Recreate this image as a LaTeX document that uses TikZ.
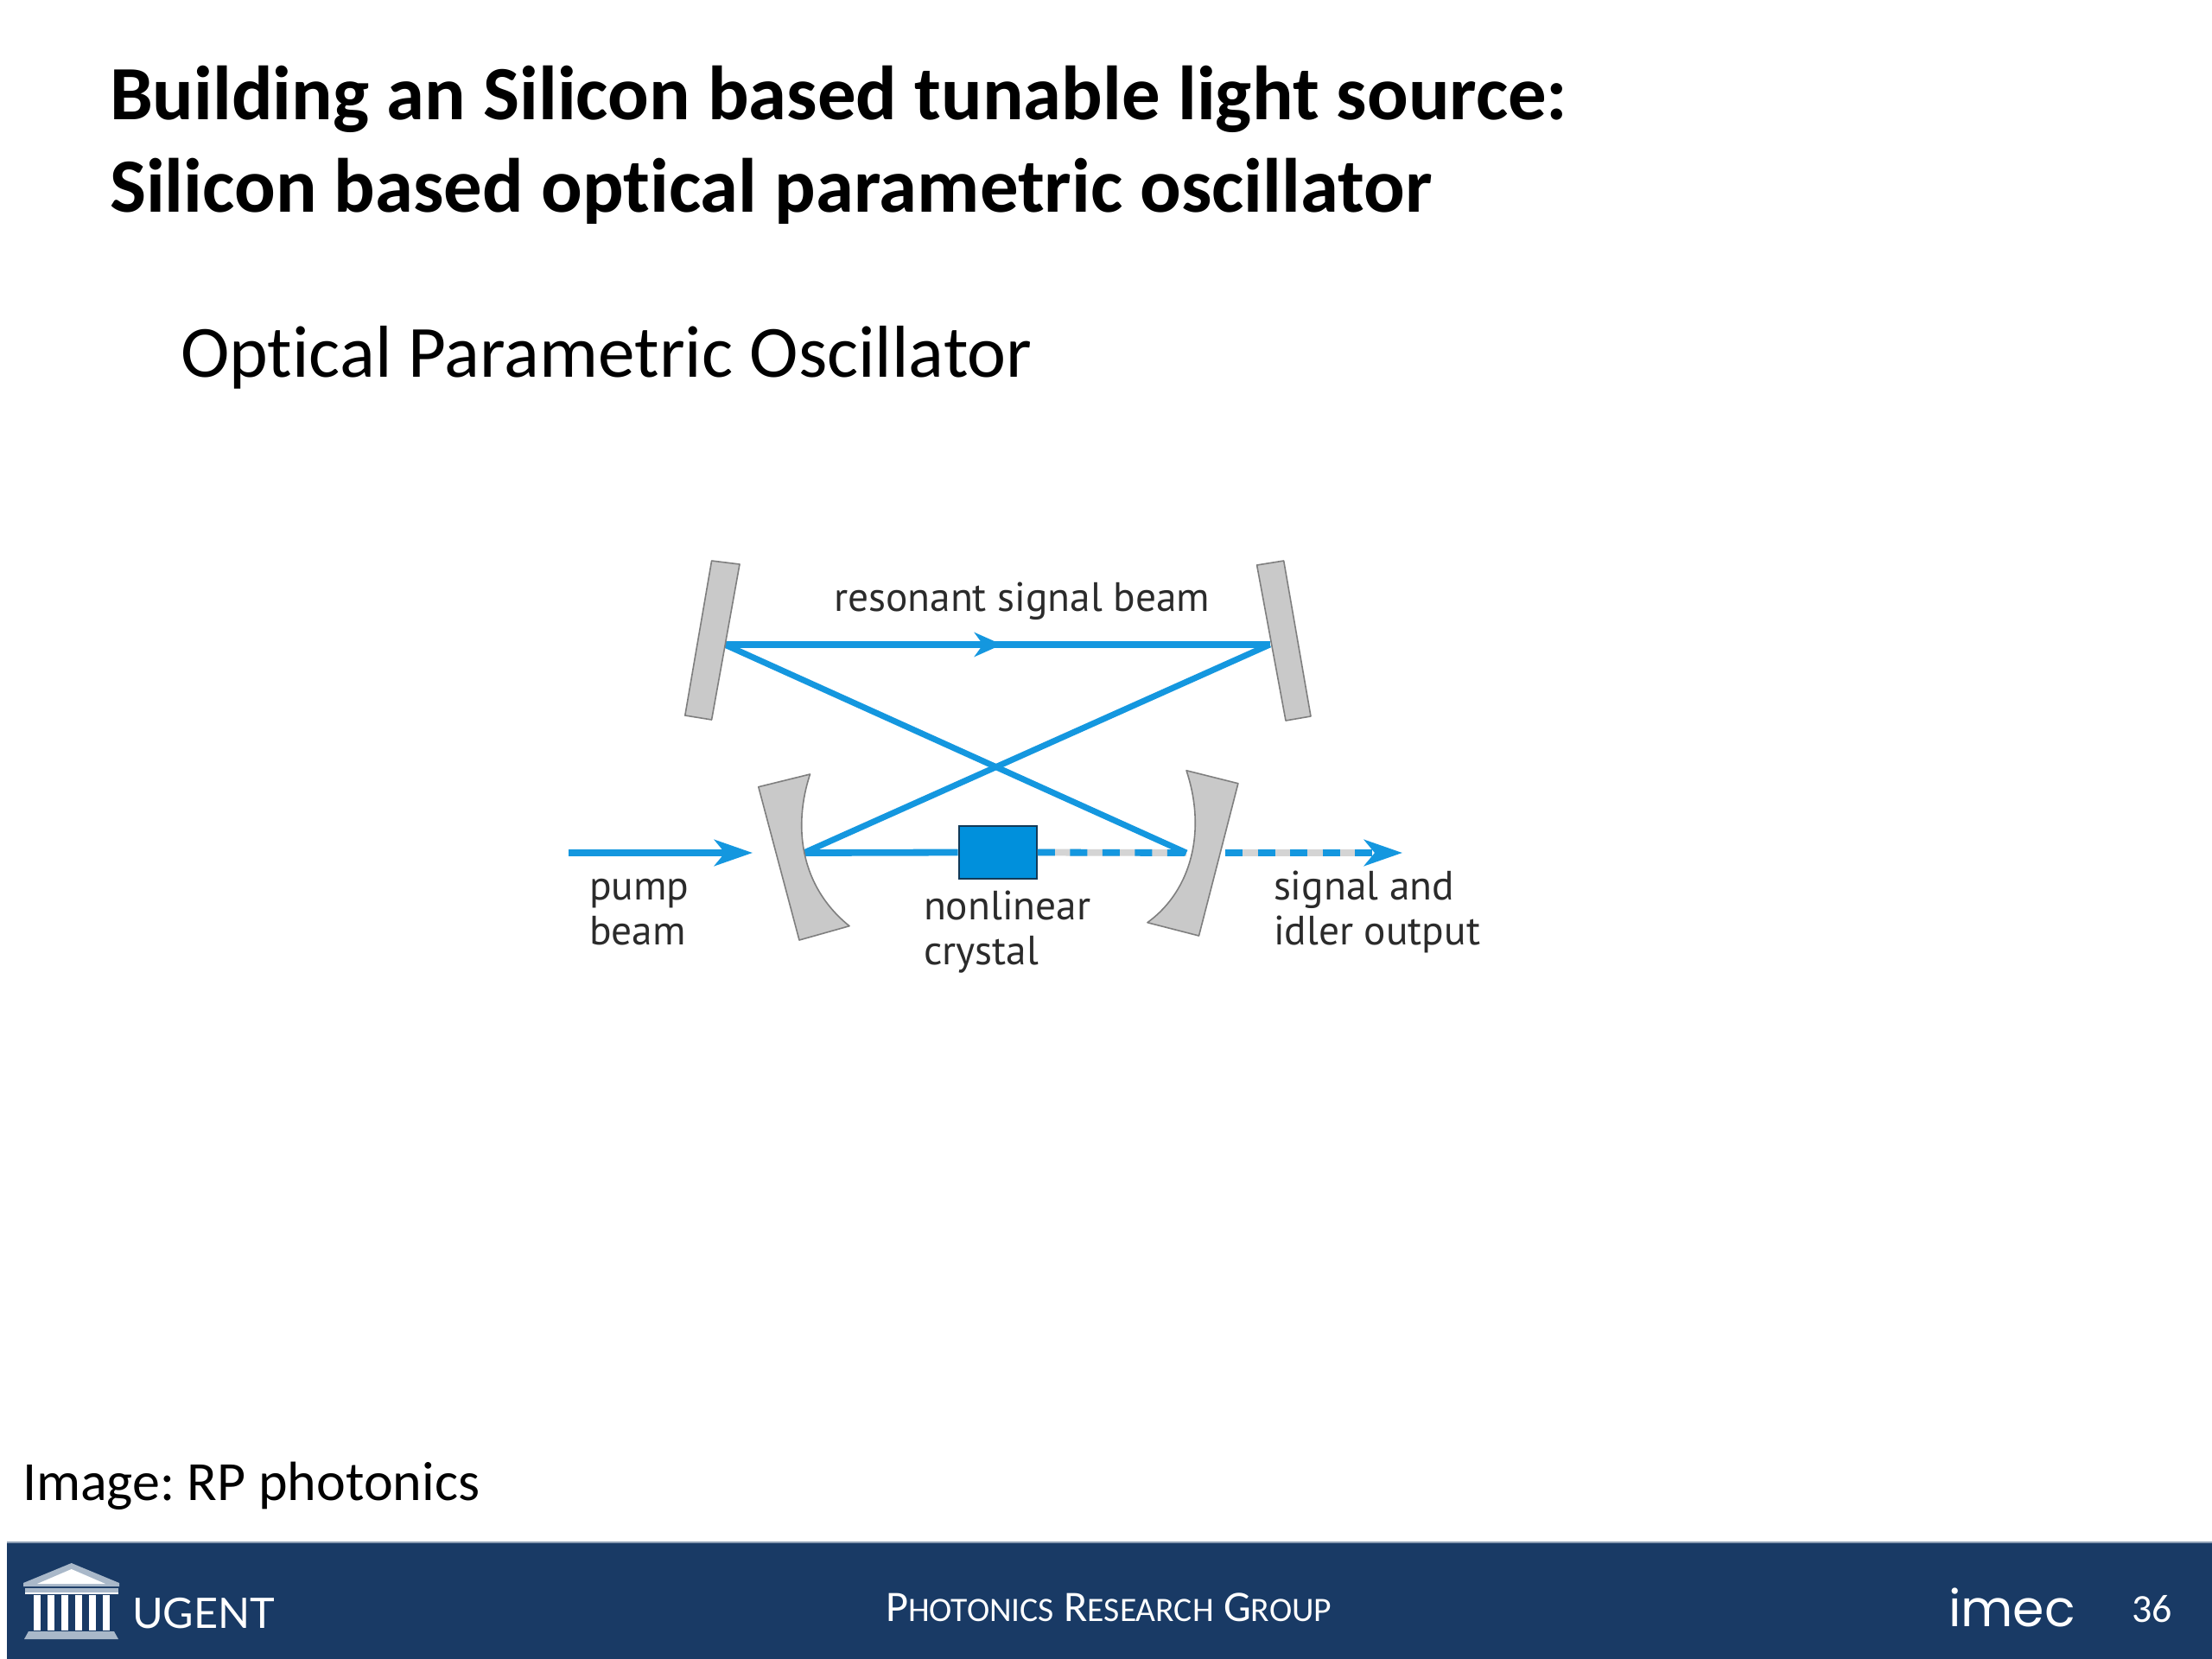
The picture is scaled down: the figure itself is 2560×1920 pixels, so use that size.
\documentclass[tikz,border=0pt]{standalone}
\usepackage{fontspec}
\setmainfont{Carlito}[Ligatures=NoCommon]
\newfontfamily\labelfont{PT Sans}
\newfontfamily\logofont{Poppins}
\newfontfamily\ugentfont{Lato}
\usetikzlibrary{arrows.meta}
\definecolor{beamblue}{HTML}{1497DF}
\definecolor{crystalblue}{HTML}{0090DC}
\definecolor{crystaledge}{HTML}{123A58}
\definecolor{mirrorfill}{HTML}{C9C9C9}
\definecolor{mirroredge}{HTML}{7F7F7F}
\definecolor{dashgrey}{HTML}{D4D4D4}
\definecolor{band}{HTML}{193A65}
\definecolor{bandedge}{HTML}{8C9DB3}
\definecolor{logogrey}{HTML}{A9B8C9}
\definecolor{labelgrey}{HTML}{2B2B2B}
\tikzset{
  txt/.style={anchor=base west,inner sep=0pt,outer sep=0pt},
  titletxt/.style={txt,font=\fontsize{44.42}{44.42}\selectfont\bfseries,text=black},
  subtxt/.style={txt,font=\fontsize{42.6}{42.6}\selectfont,text=black},
  captxt/.style={txt,font=\frenchspacing\fontsize{32}{32}\selectfont,text=black},
  lbl/.style={txt,font=\labelfont\fontsize{23.7}{23.7}\selectfont,text=labelgrey},
  foot/.style={txt,text=white},
  beam/.style={draw=beamblue,line width=3.9pt},
  thinbeam/.style={draw=beamblue,line width=3.5pt},
  tip/.style={-{Stealth[length=22pt,width=15pt,inset=6pt]}},
  smalltip/.style={-{Stealth[length=16pt,width=14pt,inset=5pt]}},
  greyline/.style={draw=dashgrey,line width=3.9pt},
  dashbeam/.style={draw=beamblue,line width=3.9pt,dash pattern=on 10pt off 8.75pt},
  mirror/.style={fill=mirrorfill,draw=mirroredge,line width=0.8pt,line join=round},
}
\begin{document}
\begin{tikzpicture}[x=0.5pt,y=-0.5pt]
\useasboundingbox (0,0) rectangle (2560,1920);
\fill[white] (0,0) rectangle (2560,1920);

% titles
\node[titletxt] (t1) at (127,139) {Building an Silicon based tunable light source:};
\node[titletxt] (t2) at (127,246) {Silicon based optical parametric oscillator};
\node[subtxt] (t3) at (209,437) {Optical Parametric Oscillator};
\node[captxt] (t4) at (26,1736) {Image: RP photonics};

% beam points
\coordinate (pumpstart) at (658,987);
\coordinate (pumptip) at (871,987);
\coordinate (ml) at (930.4,987);
\coordinate (mr) at (1373,987);
\coordinate (tl) at (838.7,746);
\coordinate (tr) at (1469.6,746);
\coordinate (tm) at (1159.7,746);
\coordinate (outstart) at (1418,987);
\coordinate (outstop) at (1585,987);
\coordinate (outtip) at (1623,987);

% crystal
\node[draw=crystaledge,fill=crystalblue,line width=1.2pt,minimum width=45pt,minimum height=30.5pt,inner sep=0pt,anchor=center] (crystal) at (1154.7,986.5) {};

% beams
\draw[beam,tip] (pumpstart) -- (pumptip);
\draw[beam] (ml) -- (crystal.west);
\draw[greyline] (crystal.east) -- (mr);
\draw[dashbeam] (crystal.east) -- (mr);
\draw[greyline] (outstart) -- (outstop);
\draw[dashbeam,tip] (outstart) -- (outtip);
\draw[beam] (tl) -- (tr);
\draw[beam,smalltip] (tl) -- (tm);
\draw[thinbeam] (tl) -- (mr);
\draw[thinbeam] (ml) -- (tr);

% mirrors
\draw[mirror] (823.6,649) -- (856,653) -- (823.6,833) -- (792.8,828) -- cycle;
\draw[mirror] (1454.6,654) -- (1485.7,649) -- (1517,829) -- (1488,834) -- cycle;
\draw[mirror] (877.8,910.7) -- (937.5,896) .. controls (918,955) and (925,1025) .. (983,1071.7) -- (925,1088) -- cycle;
\draw[mirror] (1373,891.7) -- (1432.9,906.7) -- (1387.5,1083) -- (1327.9,1067.7) .. controls (1380,1030) and (1396,960) .. (1373,891.7) -- cycle;

% labels
\node[lbl] (l1) at (965,707) {resonant signal beam};
\node[lbl] (l2) at (682,1041) {pump};
\node[lbl] (l3) at (682,1093) {beam};
\node[lbl] (l4) at (1069,1064) {nonlinear};
\node[lbl] (l5) at (1069,1116) {crystal};
\node[lbl] (l6) at (1474,1041) {signal and};
\node[lbl] (l7) at (1474,1093) {idler output};

% footer band
\fill[band] (8,1785) rectangle (2560,1920);
\draw[bandedge,line width=0.6pt] (8,1785) -- (2560,1785);

% building logo
\fill[logogrey] (82.7,1809) -- (138,1832) -- (138,1836) -- (27,1836) -- (27,1832) -- cycle;
\fill[white] (82.7,1816) -- (122,1833) -- (43,1833) -- cycle;
\fill[logogrey] (29,1838) rectangle (137,1843);
\fill[white] (29,1843) rectangle (137,1845);
\foreach \cx in {42.7,59,75,91,107,122.7}
  \fill[white] (\cx-4,1846) rectangle (\cx+4,1887);
\fill[logogrey] (33,1888) -- (132,1888) -- (137,1897) -- (28,1897) -- cycle;

% footer text
\node[foot,font=\ugentfont\fontsize{24.3}{24.3}\selectfont] (f1) at (153,1884) {UGENT};
\node[foot,font=\fontsize{25.2}{25.2}\selectfont] (f2) at (1025,1876) {P{\fontsize{19.8}{19.8}\selectfont HOTONICS} R{\fontsize{19.8}{19.8}\selectfont ESEARCH} G{\fontsize{19.8}{19.8}\selectfont ROUP}};
\node[foot,font=\logofont\fontsize{29.3}{29.3}\selectfont] (f3) at (2255,1882) {imec};
\node[foot,font=\fontsize{23}{23}\selectfont] (f4) at (2467,1877) {36};
\end{tikzpicture}
\end{document}
